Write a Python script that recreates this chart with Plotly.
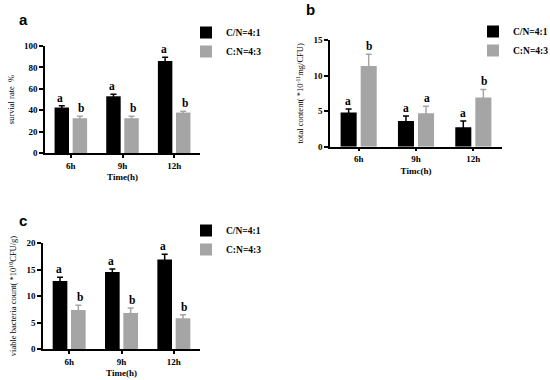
import plotly.graph_objects as go

categories = ["6h", "9h", "12h"]
series_names = ["C/N=4:1", "C:N=4:3"]

# Panel a: survival rate %
a_cn41 = [42.5, 53.0, 86.0]
a_cn41_err = [1.6, 2.0, 3.6]
a_cn43 = [32.5, 32.5, 37.8]
a_cn43_err = [1.8, 1.8, 1.2]
a_letters41 = ["a", "a", "a"]
a_letters43 = ["b", "b", "b"]

# Panel b: total content
b_cn41 = [4.8, 3.6, 2.75]
b_cn41_err = [0.5, 0.7, 0.85]
b_cn43 = [11.35, 4.7, 6.9]
b_cn43_err = [1.65, 1.0, 1.15]
b_letters41 = ["a", "a", "a"]
b_letters43 = ["b", "a", "b"]

# Panel c: viable bacteria count
c_cn41 = [12.85, 14.55, 16.9]
c_cn41_err = [0.7, 0.55, 1.0]
c_cn43 = [7.35, 6.8, 5.8]
c_cn43_err = [0.9, 0.95, 0.65]
c_letters41 = ["a", "a", "a"]
c_letters43 = ["b", "b", "b"]

BLACK = "#000000"
GREY = "#a5a5a5"
SERIF = "Liberation Serif"
W, H = 550, 380

fig = go.Figure()

panels = [
    dict(xa="x", ya="y", lg="legend", d41=a_cn41, e41=a_cn41_err, d43=a_cn43, e43=a_cn43_err,
         l41=a_letters41, l43=a_letters43),
    dict(xa="x2", ya="y2", lg="legend2", d41=b_cn41, e41=b_cn41_err, d43=b_cn43, e43=b_cn43_err,
         l41=b_letters41, l43=b_letters43),
    dict(xa="x3", ya="y3", lg="legend3", d41=c_cn41, e41=c_cn41_err, d43=c_cn43, e43=c_cn43_err,
         l41=c_letters41, l43=c_letters43),
]

annotations = []
for p in panels:
    for name, vals, errs, col, letters, shift in [
        (series_names[0], p["d41"], p["e41"], BLACK, p["l41"], -10.5),
        (series_names[1], p["d43"], p["e43"], GREY, p["l43"], 10.5),
    ]:
        fig.add_trace(go.Bar(
            x=categories, y=vals, name=name,
            marker=dict(color=col, line=dict(width=0)),
            error_y=dict(type="data", array=errs, visible=True, color=col, thickness=1.5, width=3),
            xaxis=p["xa"], yaxis=p["ya"], legend=p["lg"], offsetgroup=name,
            hoverinfo="skip",
        ))
        for c, v, e, t in zip(categories, vals, errs, letters):
            annotations.append(dict(
                x=c, y=v + e, xref=p["xa"], yref=p["ya"], text=t, showarrow=False,
                xshift=shift, yanchor="bottom", yshift=0,
                font=dict(family=SERIF, size=11.5, color="black", weight="bold"),
            ))

# panel labels
for txt, px, py in [("a", 23, 19), ("b", 310, 10), ("c", 23, 220)]:
    annotations.append(dict(text=txt, x=px / W, y=1 - py / H, xref="paper", yref="paper",
                            showarrow=False, xanchor="center", yanchor="middle",
                            font=dict(family="Liberation Sans", size=15, color="black", weight="bold")))

def dom_x(a, b):
    return [a / W, b / W]

def dom_y(top, bottom):
    return [1 - bottom / H, 1 - top / H]

tickfont = dict(family=SERIF, size=9, color="black", weight="bold")
titlefont = dict(family=SERIF, size=9, color="black", weight="bold")

def xaxis(domain, anchor, title):
    return dict(domain=domain, anchor=anchor, type="category", range=[-0.5, 2.5],
                showline=True, linecolor="black", linewidth=1.5, ticks="outside",
                ticklen=3, tickwidth=1.5, tickcolor="black", tickfont=tickfont,
                showgrid=False, zeroline=False, automargin=False,
                title=dict(text=title, font=titlefont, standoff=4))

def yaxis(domain, anchor, rng, dtick, title):
    return dict(domain=domain, anchor=anchor, range=rng, dtick=dtick,
                showline=True, linecolor="black", linewidth=1.5, ticks="outside",
                ticklen=4, tickwidth=1.5, tickcolor="black", tickfont=tickfont,
                showgrid=False, zeroline=False, automargin=False,
                title=dict(text=title, font=dict(family=SERIF, size=8.5, color="black"), standoff=8))

legend_common = dict(font=dict(family=SERIF, size=9.5, color="black", weight="bold"),
                     bgcolor="rgba(0,0,0,0)", yanchor="top",
                     tracegroupgap=0, itemwidth=30, traceorder="normal")

fig.update_layout(
    width=W, height=H,
    margin=dict(l=0, r=0, t=0, b=0, pad=0, autoexpand=False),
    paper_bgcolor="white", plot_bgcolor="white",
    barmode="group", bargap=0.3, bargroupgap=0.2,
    hovermode=False,
    xaxis=xaxis(dom_x(45, 200), "y", "Time(h)"),
    yaxis=yaxis(dom_y(46, 153), "x", [0, 100], 20, "survial rate  %"),
    xaxis2=xaxis(dom_x(330, 502), "y2", "Timc(h)"),
    yaxis2=yaxis(dom_y(40, 146.7), "x2", [0, 15], 5, "total content( *10<sup>-11</sup>mg/CFU)"),
    xaxis3=xaxis(dom_x(43, 200), "y3", "Time(h)"),
    yaxis3=yaxis(dom_y(243, 349), "x3", [0, 20], 5, "viable bacteria count( *10<sup>10</sup>CFU/g)"),
    legend=dict(x=186 / W, y=1 - 18 / H, xanchor="left", **legend_common),
    legend2=dict(x=473 / W, y=1 - 17 / H, xanchor="left", **legend_common),
    legend3=dict(x=186 / W, y=1 - 216 / H, xanchor="left", **legend_common),
    annotations=annotations,
    showlegend=True,
)

fig.write_html("out.html", config={"displayModeBar": False},
               post_script="document.body.style.margin='0px';")
